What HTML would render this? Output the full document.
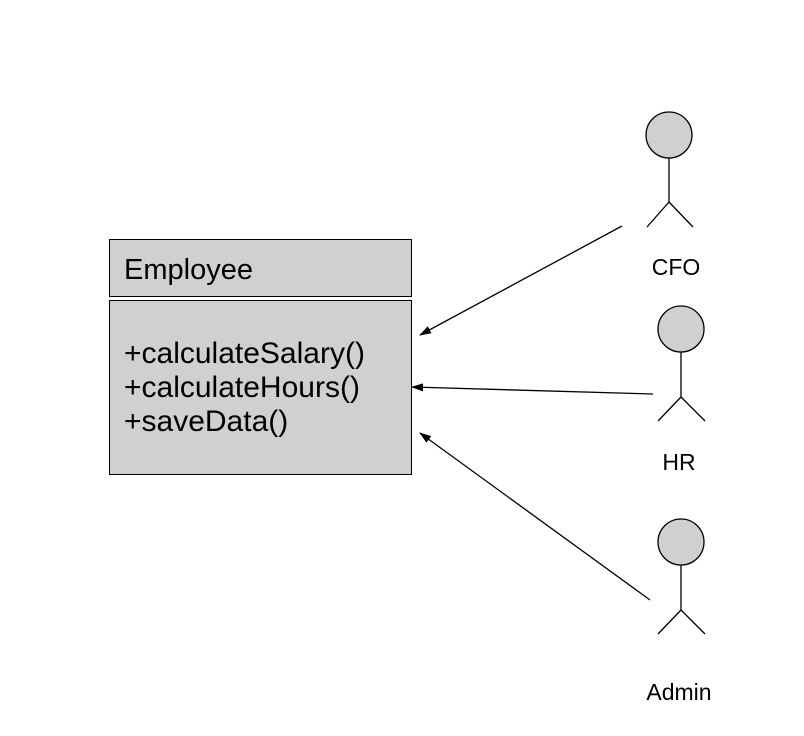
<!DOCTYPE html>
<html><head><style>body{margin:0;background:#fff}svg{display:block}</style></head>
<body>
<svg width="804" height="736" viewBox="0 0 804 736" xmlns="http://www.w3.org/2000/svg" font-family="Liberation Sans, Arial, sans-serif">
<defs><marker id="a" markerWidth="12" markerHeight="8" refX="11" refY="4" orient="auto" markerUnits="userSpaceOnUse"><path d="M0,0 L12,4 L0,8 z" fill="#000"/></marker></defs>
<rect x="109.5" y="239.5" width="302" height="57" fill="#d0d0d0" stroke="#000"/>
<rect x="109.5" y="300.5" width="302" height="174" fill="#d0d0d0" stroke="#000"/>
<text x="124" y="279" font-size="29">Employee</text>
<text x="124" y="363" font-size="30">+calculateSalary()</text>
<text x="124" y="397" font-size="30">+calculateHours()</text>
<text x="124" y="431" font-size="30">+saveData()</text>
<g stroke="#000" stroke-width="1.3" fill="none">
<line x1="622" y1="226" x2="420" y2="335" marker-end="url(#a)"/>
<line x1="653" y1="394" x2="412" y2="387" marker-end="url(#a)"/>
<line x1="650" y1="600" x2="420" y2="433" marker-end="url(#a)"/>
</g>
<g stroke="#000" stroke-width="1.3">
<circle cx="669" cy="135" r="23" fill="#d0d0d0"/>
<path d="M669 158V202M669 202L647 227M669 202L693 227" fill="none"/>
<circle cx="681" cy="329" r="23" fill="#d0d0d0"/>
<path d="M681 352V397M681 397L658 421M681 397L705 421" fill="none"/>
<circle cx="681" cy="542" r="23" fill="#d0d0d0"/>
<path d="M681 565V610M681 610L658 634M681 610L705 634" fill="none"/>
</g>
<text x="676" y="275" font-size="23" text-anchor="middle">CFO</text>
<text x="679" y="470" font-size="23" text-anchor="middle">HR</text>
<text x="679" y="700" font-size="23" text-anchor="middle">Admin</text>
</svg>
</body></html>
